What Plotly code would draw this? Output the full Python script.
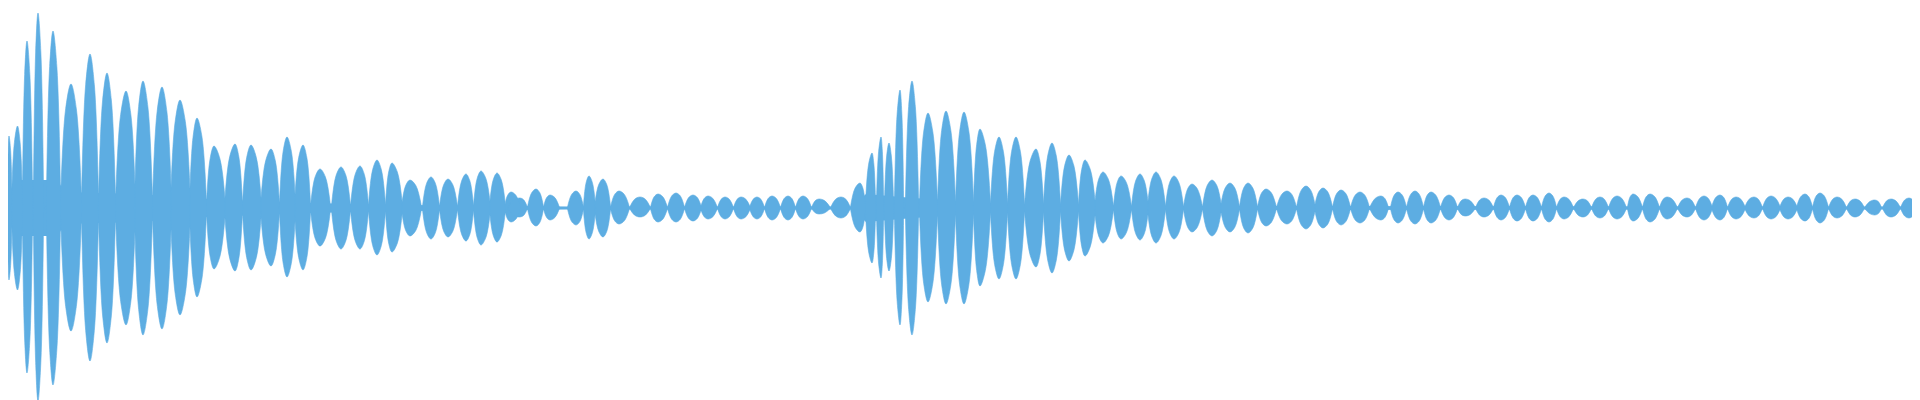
import plotly.graph_objects as go

# Lobes of the waveform envelope: start, peak position, end, upper peak, lower peak
lobe_start = [0, 4, 15, 26, 39, 53, 74, 91, 108, 127, 145, 163, 182, 199, 217, 235, 253, 272, 287,
              303, 324, 343, 361, 378, 394, 415, 432, 450, 466, 482, 497, 500, 520, 536, 560, 576, 587,
              603, 622, 643, 660, 677, 693, 710, 726, 742, 757, 773, 788, 804, 823,
              843, 858, 869, 877, 887, 898, 912, 930, 948, 966, 983, 1000, 1017, 1036, 1053, 1071, 1087, 1106, 1124,
              1140, 1158, 1176, 1195, 1213, 1232, 1250, 1269, 1289, 1307, 1325, 1343, 1362,
              1383, 1399, 1416, 1433, 1450, 1468, 1486, 1502, 1518, 1534, 1549, 1566, 1584, 1601,
              1620, 1635, 1652, 1670, 1688, 1704, 1720, 1737, 1755, 1772, 1789, 1805, 1821, 1839, 1857, 1875, 1893, 1910]
lobe_peak = [1, 9.5, 19, 30, 45, 63, 82, 99, 118, 135, 154, 172, 189, 206, 227, 243, 263, 279, 295,
             312, 333, 352, 369, 384, 402, 423, 440, 458, 473, 489, 503, 512, 528, 542, 568, 581, 595,
             611, 632, 650, 668, 685, 700, 717, 733, 749, 764, 780, 795, 811, 833,
             852, 864, 873, 881, 892, 904, 920, 938, 956, 972, 991, 1008, 1028, 1044, 1061, 1077, 1095, 1113, 1132,
             1148, 1166, 1184, 1204, 1222, 1240, 1258, 1279, 1298, 1315, 1333, 1352, 1373,
             1390, 1407, 1423, 1441, 1457, 1476, 1493, 1509, 1525, 1541, 1556, 1575, 1592, 1609,
             1625, 1642, 1659, 1679, 1696, 1712, 1728, 1746, 1763, 1780, 1797, 1812, 1829, 1847, 1867, 1883, 1901, 1917]
lobe_end = [3.5, 14, 24, 35, 52, 73, 90, 107, 127, 144, 163, 182, 198, 217, 234, 253, 271, 287, 302,
            322, 342, 360, 377, 394, 413, 431, 449, 465, 482, 497, 512, 519, 535, 551, 575, 587, 602,
            621, 642, 659, 676, 693, 709, 725, 742, 756, 772, 787, 803, 822, 842,
            857, 867, 875, 885, 895, 910, 929, 947, 965, 982, 999, 1016, 1035, 1052, 1070, 1087, 1105, 1123, 1140,
            1157, 1175, 1194, 1213, 1231, 1249, 1268, 1288, 1307, 1324, 1342, 1361, 1380,
            1398, 1415, 1432, 1449, 1467, 1485, 1501, 1517, 1533, 1548, 1565, 1583, 1600, 1618,
            1634, 1651, 1669, 1687, 1704, 1719, 1737, 1754, 1772, 1789, 1804, 1820, 1838, 1856, 1873, 1892, 1908, 1925]
lobe_top = [72, 82, 167, 195, 177, 124, 154, 135, 117, 127, 121, 108, 90, 62, 64, 63, 59, 71, 63,
            39, 41, 42, 48, 45, 28, 31, 29, 34, 37, 35, 16, 10, 19, 13, 17, 32, 29,
            17, 11, 14, 15, 13, 12, 11, 11, 11, 12, 12, 12, 9, 11,
            25, 55, 71, 65, 118, 127, 95, 97, 96, 79, 71, 71, 59, 65, 53, 48, 36, 32, 34,
            36, 32, 24, 28, 25, 25, 19, 17, 22, 20, 18, 16, 12,
            16, 17, 16, 13, 9, 10, 13, 13, 13, 15, 11, 9, 11, 12,
            14, 14, 11, 10, 12, 13, 11, 11, 12, 11, 14, 15, 11, 9, 8, 9, 10, 11]
lobe_bottom = [72, 82, 165, 193, 177, 123, 153, 135, 117, 127, 121, 107, 89, 61, 63, 62, 58, 69, 62,
               38, 41, 41, 47, 44, 28, 31, 29, 33, 37, 34, 14, 9, 18, 12, 17, 31, 29,
               16, 9, 14, 14, 13, 11, 11, 11, 11, 12, 12, 11, 6, 10,
               24, 55, 70, 63, 117, 127, 94, 96, 96, 78, 71, 71, 59, 65, 53, 48, 35, 31, 32,
               35, 31, 24, 28, 24, 25, 18, 16, 21, 20, 17, 15, 12,
               15, 16, 15, 12, 8, 9, 12, 13, 13, 14, 11, 9, 10, 11,
               13, 14, 11, 9, 12, 12, 11, 10, 11, 11, 13, 15, 10, 9, 7, 9, 10, 11]

# Central band between lobes (half-height of the envelope floor)
band_x = [0, 12, 50, 56, 130, 200, 300, 400, 560, 845, 858, 905, 1000, 1150, 1920]
band_h = [10, 28, 28, 16, 14, 9, 5, 3, 1.5, 1.5, 14, 10, 4, 2, 1.5]

COLOR = "#5DADE2"
SHOULDER = 0.8   # outline height half-way between lobe edge and peak, relative to peak (shape style)
PAD = 0.7        # px overlap so neighbouring lobes touch (shape style)

lx, ly = [], []
for s, p, e, t, b in zip(lobe_start, lobe_peak, lobe_end, lobe_top, lobe_bottom):
    s, e = s - PAD, e + PAD
    q1, q2 = (s + p) / 2, (p + e) / 2
    for h in (t, -b):
        lx += [s, q1, p, q2, e, None]
        ly += [0, SHOULDER * h, h, SHOULDER * h, 0, None]

fig = go.Figure()
fig.add_trace(go.Scatter(
    x=band_x + band_x[::-1], y=band_h + [-v for v in band_h[::-1]],
    fill="toself", fillcolor=COLOR, mode="lines", line=dict(width=0, color=COLOR),
    hoverinfo="skip", showlegend=False))
fig.add_trace(go.Scatter(
    x=lx, y=ly, fill="toself", fillcolor=COLOR, mode="lines",
    line=dict(width=0.6, color=COLOR, shape="spline", smoothing=1),
    connectgaps=False, hoverinfo="skip", showlegend=False))

fig.update_layout(
    width=1920, height=400,
    margin=dict(l=0, r=0, t=0, b=0),
    paper_bgcolor="white", plot_bgcolor="white",
    xaxis=dict(range=[0, 1920], visible=False, fixedrange=True),
    yaxis=dict(range=[-200, 200], visible=False, fixedrange=True),
)
fig.write_html("out.html")
